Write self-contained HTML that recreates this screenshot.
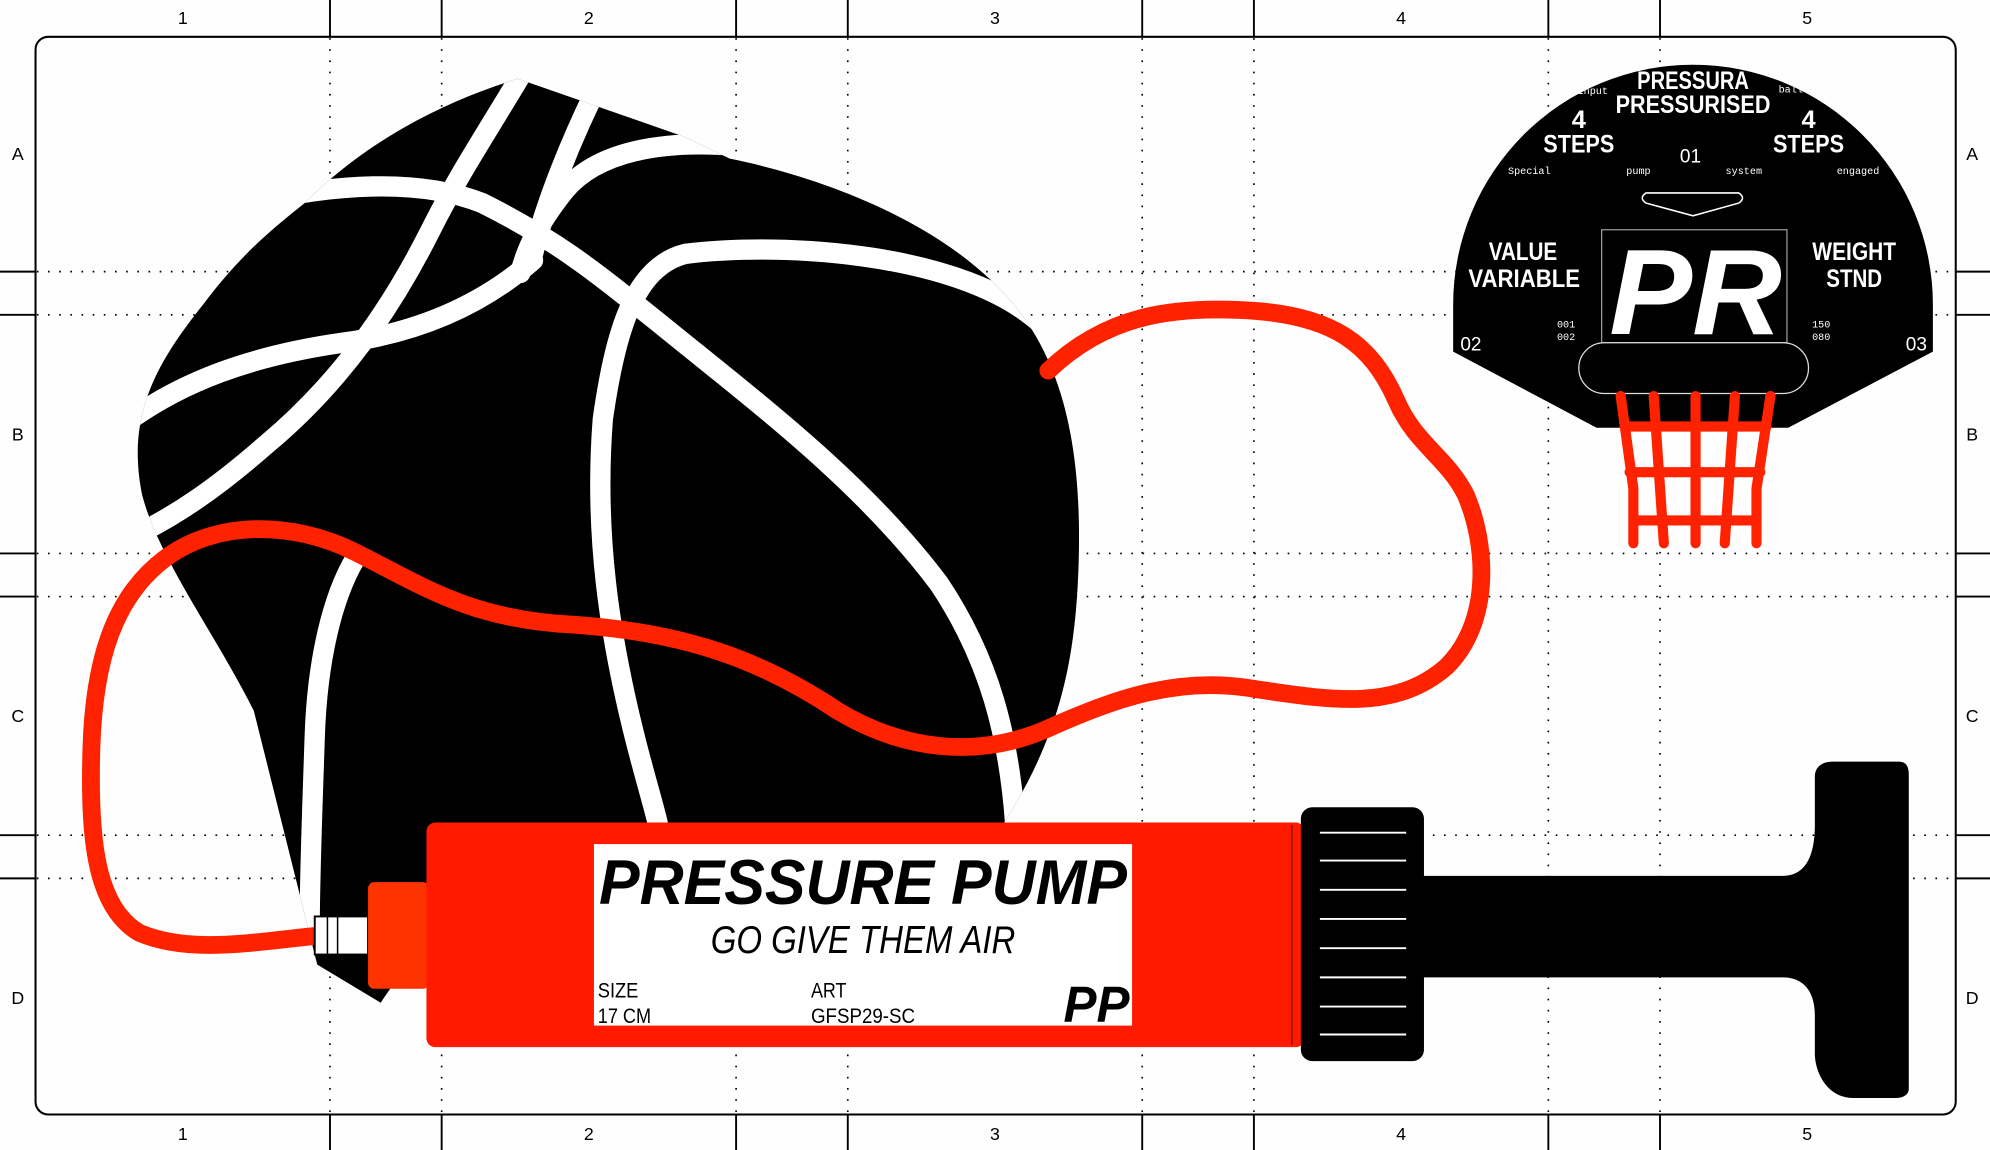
<!DOCTYPE html>
<html><head><meta charset="utf-8"><style>
html,body{margin:0;padding:0;background:#fff;}
svg{display:block;}
text{font-family:"Liberation Sans",sans-serif;}
.m{font-family:"Liberation Mono",monospace;}
</style></head><body>
<svg width="1990" height="1150" viewBox="0 0 1568 906" preserveAspectRatio="none" xmlns="http://www.w3.org/2000/svg">
<rect width="1568" height="906" fill="#fefefe"/>
<g stroke="#000" stroke-width="1.3" stroke-dasharray="1.3 7.5" fill="none">
<path d="M260 30V878M348 30V878M580 30V878M668 30V878M900 30V878M988 30V878M1220 30V878M1308 30V878"/>
<path d="M29 214H1540M29 248H1540M29 436H1540M29 470H1540M29 658H1540M29 692H1540"/>
</g>
<g stroke="#000" stroke-width="1.5">
<path d="M260 0V29M348 0V29M580 0V29M668 0V29M900 0V29M988 0V29M1220 0V29M1308 0V29"/>
<path d="M260 878V906M348 878V906M580 878V906M668 878V906M900 878V906M988 878V906M1220 878V906M1308 878V906"/>
<path d="M0 214H28M0 248H28M0 436H28M0 470H28M0 658H28M0 692H28"/>
<path d="M1541 214H1568M1541 248H1568M1541 436H1568M1541 470H1568M1541 658H1568M1541 692H1568"/>
</g>
<rect x="28" y="29" width="1513" height="849" rx="10" fill="none" stroke="#000" stroke-width="1.6"/>
<g font-size="14" text-anchor="middle" fill="#000">
<text x="144" y="19">1</text><text x="464" y="19">2</text><text x="784" y="19">3</text><text x="1104" y="19">4</text><text x="1424" y="19">5</text>
<text x="144" y="898">1</text><text x="464" y="898">2</text><text x="784" y="898">3</text><text x="1104" y="898">4</text><text x="1424" y="898">5</text>
<text x="14" y="126">A</text><text x="14" y="347">B</text><text x="14" y="569">C</text><text x="14" y="791">D</text>
<text x="1554" y="126">A</text><text x="1554" y="347">B</text><text x="1554" y="569">C</text><text x="1554" y="791">D</text>
</g>
<defs><clipPath id="bc"><path id="ballp" d="M240 160 C290 110 350 80 408 62 L540 108 L575 125 C650 140 760 180 810 255 C840 300 852 360 850 440 C848 520 835 580 790 650 L400 700 C350 720 320 760 300 790 L250 760 C235 700 215 620 200 560 C170 500 125 440 112 390 C100 330 120 290 160 240 C190 200 215 180 240 160Z"/></clipPath></defs>
<use href="#ballp" fill="#000"/>
<g clip-path="url(#bc)" fill="none" stroke="#fff" stroke-width="16" stroke-linecap="round">
<path d="M410 60 C380 110 360 140 340 180 C310 240 270 300 210 350 C170 385 140 405 110 420"/>
<path d="M200 160 C260 145 330 140 380 160 C440 190 470 215 520 255 C600 320 680 380 740 460 C780 520 795 580 800 650"/>
<path d="M470 70 C450 110 430 160 420 200"/>
<path d="M820 255 C760 200 620 190 540 200 C500 210 485 260 475 330 C468 420 480 500 500 580 C510 620 520 650 520 660"/>
<path d="M90 340 C140 300 200 280 270 270 C330 262 380 240 420 205"/>
<path d="M580 115 C520 110 470 120 445 150 C425 175 415 195 410 215"/>
<path d="M280 440 C262 470 250 520 248 580 C246 640 244 690 244 730"/>
</g>
<path d="M252 737 C200 742 150 752 110 735 C75 715 70 660 72 590 C74 520 90 470 130 440 C170 410 230 410 280 435 C330 460 370 488 450 492 C540 498 600 520 660 560 C710 590 770 600 830 572 C880 550 930 532 990 543 C1050 552 1100 560 1140 525 C1175 490 1172 430 1155 390 C1140 360 1115 350 1100 315 C1080 270 1050 250 990 245 C920 240 870 250 826 292" fill="none" stroke="#ff2200" stroke-width="14" stroke-linecap="round"/>
<rect x="248" y="722" width="42" height="30" fill="#fff" stroke="#000" stroke-width="1.5"/>
<path d="M258 722V752M266 722V752" stroke="#000" stroke-width="1.2"/>
<rect x="290" y="695" width="48" height="84" rx="5" fill="#ff3300"/>
<rect x="336" y="648" width="692" height="177" rx="7" fill="#ff1a00"/>
<path d="M1018 650V823" stroke="#000" stroke-width="1" opacity=".5"/>
<rect x="1025" y="636" width="97" height="200" rx="9" fill="#000"/>
<g stroke="#fff" stroke-width="1.5"><path d="M1040 656H1108M1040 678H1108M1040 701H1108M1040 724H1108M1040 747H1108M1040 770H1108M1040 793H1108M1040 815H1108"/></g>
<path d="M1120 690 H1405 C1425 690 1430 670 1430 650 V612 C1430 604 1436 600 1444 600 H1496 C1502 600 1504 604 1504 610 V858 C1504 862 1500 865 1494 865 H1460 C1440 865 1430 845 1430 830 V800 C1430 780 1420 770 1405 770 H1120Z" fill="#000"/>
<rect x="468" y="665" width="424" height="143" fill="#fff"/>
<text x="680" y="712" font-size="50" font-weight="bold" font-style="italic" text-anchor="middle" textLength="416" lengthAdjust="spacingAndGlyphs">PRESSURE PUMP</text>
<text x="680" y="751" font-size="31" font-style="italic" text-anchor="middle" textLength="240" lengthAdjust="spacingAndGlyphs">GO GIVE THEM AIR</text>
<g font-size="17"><text x="471" y="786" textLength="32" lengthAdjust="spacingAndGlyphs">SIZE</text><text x="471" y="806" textLength="42" lengthAdjust="spacingAndGlyphs">17 CM</text><text x="639" y="786" textLength="28" lengthAdjust="spacingAndGlyphs">ART</text><text x="639" y="806" textLength="82" lengthAdjust="spacingAndGlyphs">GFSP29-SC</text></g>
<text x="864" y="805" font-size="40" font-weight="bold" font-style="italic" text-anchor="middle" textLength="52" lengthAdjust="spacingAndGlyphs">PP</text>
<path d="M1145 240 A189 189 0 0 1 1523 240 V277 L1409 337 H1258 L1145 277Z" fill="#000"/>
<path d="M1297 152 H1370 Q1376 156 1370 160 L1334 170 L1297 160 Q1291 156 1297 152Z" fill="none" stroke="#fff" stroke-width="1.2"/>
<rect x="1262" y="181" width="146" height="89" fill="none" stroke="#999" stroke-width="1"/>
<text x="1336" y="263" font-size="96" font-weight="bold" font-style="italic" text-anchor="middle" fill="#fff" textLength="136" lengthAdjust="spacingAndGlyphs">PR</text>
<rect x="1244" y="270" width="181" height="40" rx="20" fill="#000" stroke="#ddd" stroke-width="1"/>
<g fill="none" stroke="#ff2200" stroke-width="8" stroke-linecap="round" stroke-linejoin="round">
<path d="M1277 312 L1287 385 V428M1303 312 L1311 428M1336 312 V428M1367 312 L1359 428M1395 312 L1384 385 V428"/>
<path d="M1280 336 H1392M1284 372 H1387M1288 410 H1383"/>
</g>
<g fill="#fff" text-anchor="middle" font-weight="bold" lengthAdjust="spacingAndGlyphs">
<text x="1334" y="70" font-size="20" textLength="88" lengthAdjust="spacingAndGlyphs">PRESSURA</text>
<text x="1334" y="89" font-size="20" textLength="122" lengthAdjust="spacingAndGlyphs">PRESSURISED</text>
<text x="1244" y="101" font-size="20">4</text><text x="1244" y="120" font-size="20" textLength="56" lengthAdjust="spacingAndGlyphs">STEPS</text>
<text x="1425" y="101" font-size="20">4</text><text x="1425" y="120" font-size="20" textLength="56" lengthAdjust="spacingAndGlyphs">STEPS</text>
<text x="1200" y="205" font-size="20" textLength="54" lengthAdjust="spacingAndGlyphs">VALUE</text><text x="1201" y="226" font-size="20" textLength="88" lengthAdjust="spacingAndGlyphs">VARIABLE</text>
<text x="1461" y="205" font-size="20" textLength="66" lengthAdjust="spacingAndGlyphs">WEIGHT</text><text x="1461" y="226" font-size="20" textLength="44" lengthAdjust="spacingAndGlyphs">STND</text>
<text x="1332" y="128" font-size="15" font-weight="normal">01</text>
<text x="1159" y="276" font-size="15" font-weight="normal">02</text>
<text x="1510" y="276" font-size="15" font-weight="normal">03</text>
</g>
<g fill="#fff" font-size="8" text-anchor="middle">
<text x="1255" y="74" class="m">input</text><text x="1411" y="73" class="m">ball</text>
<text x="1205" y="137" class="m">Special</text><text x="1291" y="137" class="m">pump</text><text x="1374" y="137" class="m">system</text><text x="1464" y="137" class="m">engaged</text>
<text x="1234" y="258" class="m">001</text><text x="1234" y="268" class="m">002</text>
<text x="1435" y="258" class="m">150</text><text x="1435" y="268" class="m">080</text>
</g>
</svg>
</body></html>
